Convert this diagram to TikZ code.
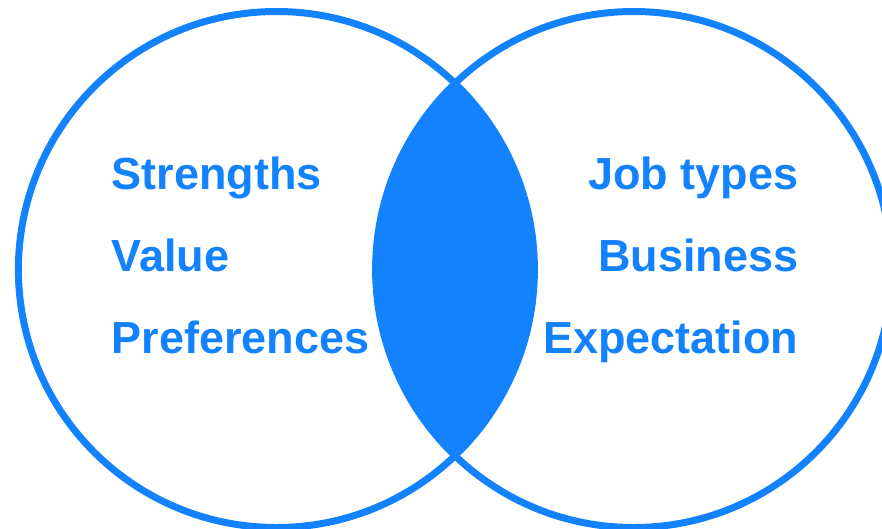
\documentclass[tikz,border=0pt]{standalone}
\usepackage{fontspec}
\setmainfont{Liberation Sans}
\definecolor{vblue}{RGB}{18,130,255}
\begin{document}
\begin{tikzpicture}[x=1pt,y=-1pt,
  ring/.style={draw=vblue,line width=7pt},
  lbl/.style={inner sep=0pt,text=vblue,font=\fontsize{45}{50}\selectfont\bfseries}]
\clip (0,0) rectangle (882,528);
\coordinate (cl) at (276.4,269.5);
\coordinate (cr) at (633.6,269.5);
\begin{scope}
  \clip (cl) circle (258);
  \fill[vblue] (cr) circle (258);
\end{scope}
\draw[ring] (cl) circle (258);
\draw[ring] (cr) circle (258);
\node[lbl,anchor=base west] (s) at (111.5,189) {Strengths};
\node[lbl,anchor=base west] (v) at (111.5,271) {Value};
\node[lbl,anchor=base west] (p) at (111.5,353) {Preferences};
\node[lbl,anchor=base east] (j) at (798.5,189) {Job types};
\node[lbl,anchor=base east] (b) at (798.5,271) {Business};
\node[lbl,anchor=base east] (e) at (798.5,353) {Expectation};
\end{tikzpicture}
\end{document}
